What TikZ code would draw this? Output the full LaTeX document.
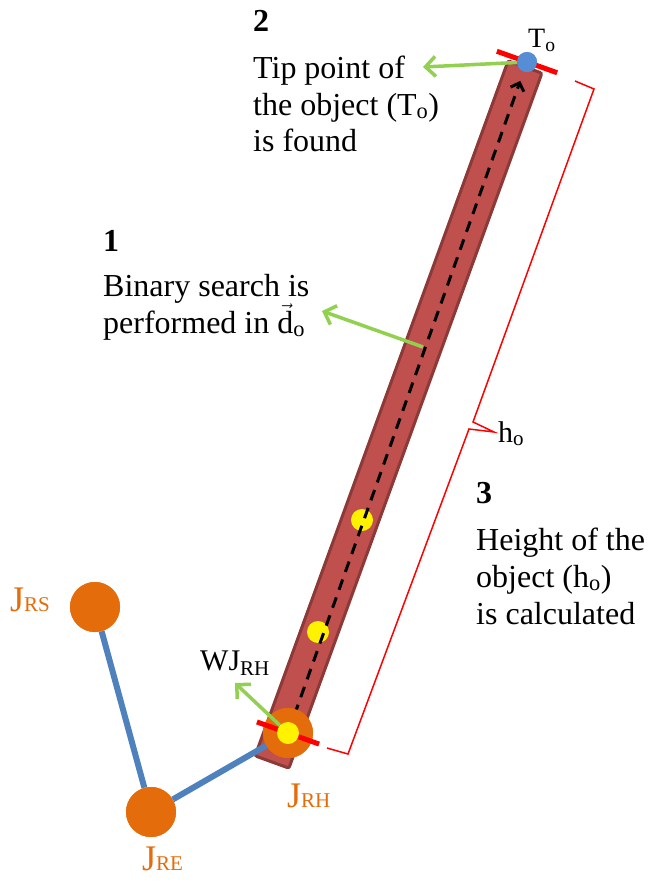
\documentclass[tikz,border=0pt]{standalone}
\usepackage{fontspec}
\setmainfont{Liberation Serif}
\usepackage{amsmath}
\usetikzlibrary{arrows.meta,calc}
\definecolor{rodfill}{HTML}{C0504D}
\definecolor{rodedge}{HTML}{8C3A38}
\definecolor{jorange}{HTML}{E46C0A}
\definecolor{jblue}{HTML}{4F81BD}
\definecolor{tipblue}{HTML}{558ED5}
\definecolor{agreen}{HTML}{92D050}
\newcommand\jointlabel[1]{{\fontsize{36pt}{36pt}\selectfont J}{\fontsize{21pt}{21pt}\selectfont #1}}
\tikzset{
 rod/.style={fill=rodfill, draw=rodedge, line width=3pt, rounded corners=2pt},
 joint/.style={circle, fill=jorange, minimum size=50pt, inner sep=0pt},
 ydot/.style={circle, fill=yellow, minimum size=22pt, inner sep=0pt},
 tdot/.style={circle, fill=tipblue, minimum size=20pt, inner sep=0pt},
 limb/.style={draw=jblue, line width=6pt},
 redtick/.style={draw=red, line width=5pt},
 garrow/.style={draw=agreen, line width=3.5pt, -{Straight Barb[length=10pt,width=20pt]}},
 darrow/.style={draw=black, line width=3pt, dash pattern=on 11pt off 8pt, -{Straight Barb[length=7pt,width=14pt]}},
 bracestyle/.style={draw=red, line width=1.5pt},
 txt/.style={anchor=base west, inner sep=0pt, font=\fontsize{32pt}{37pt}\selectfont},
 jtxt/.style={anchor=base west, inner sep=0pt, text=jorange},
}
\begin{document}
\begin{tikzpicture}[x=1pt,y=-1pt]
\useasboundingbox[fill=white] (0,0) rectangle (651,883);
% rod
\coordinate (rb) at (272,762);
\coordinate (rt) at (525,67);
\draw[rod] ($(rb)!18pt!90:(rt)$) -- ($(rt)!18pt!-90:(rb)$) -- ($(rt)!18pt!90:(rb)$) -- ($(rb)!18pt!-90:(rt)$) -- cycle;
% search points
\node[ydot] (y1) at (362,520) {};
\node[ydot] (y2) at (318,632) {};
% joints
\node[joint] (jrs) at (95,607) {};
\node[joint] (jre) at (151,812) {};
\node[joint] (jrh) at (288,733) {};
\node[tdot] (tip) at (527,62) {};
% dashed search direction
\draw[darrow, shorten >=20pt] (jrh.center) -- (tip.center);
% limbs
\draw[limb] (jrs) -- (jre);
\draw[limb] (jre) -- (jrh);
\node[joint] at (jrh) {};
\node[joint] at (jrs) {};
\node[joint] at (jre) {};
% red ticks
\draw[redtick] ($(jrh.center)!33pt!90:(tip.center)$) -- ($(jrh.center)!33pt!-90:(tip.center)$);
\draw[redtick] ($(tip.center)!32pt!90:(jrh.center)$) -- ($(tip.center)!32pt!-90:(jrh.center)$);
\node[tdot] at (tip) {};
\node[ydot] (yh) at (288,733) {};
% green arrows
\coordinate (g2) at (423,67);
\draw[garrow] (tip) -- (g2);
\coordinate (g1s) at (423,347);
\coordinate (g1e) at (322,311);
\draw[garrow] (g1s) -- (g1e);
\coordinate (gw) at (235,683);
\draw[garrow] (yh) -- (gw);
% brace
\draw[bracestyle] (327,748) -- (348,754) -- (469,429) -- (494,432) -- (473,422) -- (594,89) -- (575,81);
% texts
\node[txt] (n2) at (253,32) {\textbf{2}};
\node[txt] (t2a) at (253,78) {Tip point of};
\node[txt] (t2b) at (253,115) {the object (T\textsubscript{o})};
\node[txt] (t2c) at (253,151) {is found};
\node[txt] (n1) at (103,251) {\textbf{1}};
\node[txt] (t1a) at (103,296) {Binary search is};
\node[txt] (t1b) at (103,333) {performed in \(\vec{\text{d}}\)\textsubscript{o}};
\node[txt] (n3) at (476,503) {\textbf{3}};
\node[txt] (t3a) at (476,550) {Height of the};
\node[txt] (t3b) at (476,587) {object (h\textsubscript{o})};
\node[txt] (t3c) at (476,624) {is calculated};
\node[txt, font=\fontsize{30pt}{30pt}\selectfont] (ho) at (498,442) {h\textsubscript{o}};
\node[txt, font=\fontsize{28pt}{28pt}\selectfont] (to) at (528,48) {T\textsubscript{o}};
\node[txt, font=\fontsize{30pt}{30pt}\selectfont] (wj) at (200,670) {WJ\textsubscript{RH}};
\node[jtxt] (ljrs) at (10,611) {\jointlabel{RS}};
\node[jtxt] (ljre) at (142,870) {\jointlabel{RE}};
\node[jtxt] (ljrh) at (287,807) {\jointlabel{RH}};
\end{tikzpicture}
\end{document}
